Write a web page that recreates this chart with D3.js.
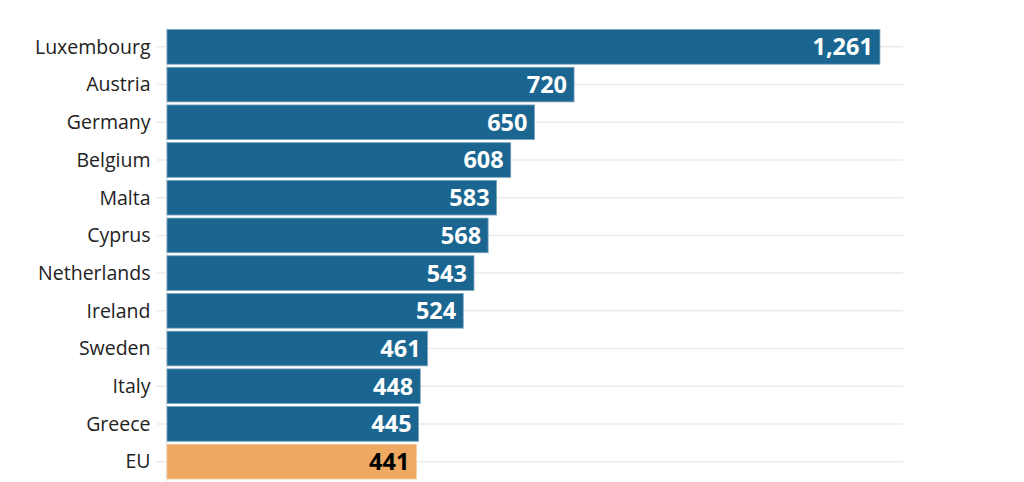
<!DOCTYPE html>
<html><head><meta charset="utf-8">
<script src="https://cdn.jsdelivr.net/npm/d3@7"></script>
<style>body{margin:0;background:#fff;}svg{display:block;font-family:"Open Sans",sans-serif;}</style>
</head><body>
<svg id="c" width="1024" height="482"></svg>
<script>
const categories = ["Luxembourg","Austria","Germany","Belgium","Malta","Cyprus","Netherlands","Ireland","Sweden","Italy","Greece","EU"];
const values = [1261,720,650,608,583,568,543,524,461,448,445,441];
const highlight = ["EU"];

const svg = d3.select("#c");
const x = d3.scaleLinear().domain([0,1300]).range([167,902]);
const y = d3.scaleBand().domain(categories).range([28,480.5]).paddingInner(0.08).paddingOuter(0.04);

// gridlines
svg.append("g").selectAll("line").data(categories).join("line")
  .attr("x1",157).attr("x2",903)
  .attr("y1",d=>y(d)+y.bandwidth()/2).attr("y2",d=>y(d)+y.bandwidth()/2)
  .attr("stroke","#ebebeb").attr("stroke-width",1.5);

// axis line
svg.append("line").attr("x1",166.5).attr("x2",166.5).attr("y1",28).attr("y2",482)
  .attr("stroke","#e6e6e6").attr("stroke-width",1);

const data = categories.map((c,i)=>({c,v:values[i]}));
svg.append("g").selectAll("rect").data(data).join("rect")
  .attr("x",x(0)).attr("y",d=>y(d.c))
  .attr("width",d=>x(d.v)-x(0)).attr("height",y.bandwidth())
  .attr("fill",d=>highlight.includes(d.c)?"#efa963":"#1a6691")
  .attr("stroke",d=>highlight.includes(d.c)?"#f5c99a":"#7fa6c0").attr("stroke-width",0.8);

// category labels
svg.append("g").selectAll("text").data(categories).join("text")
  .attr("x",150.5).attr("y",d=>y(d)+y.bandwidth()/2)
  .attr("dy","0.35em").attr("text-anchor","end")
  .attr("font-size",19.5).attr("fill","#222").text(d=>d);

// value labels
const fmt = d3.format(",");
svg.append("g").selectAll("text").data(data).join("text")
  .attr("x",d=>x(d.v)-7).attr("y",d=>y(d.c)+y.bandwidth()/2)
  .attr("dy","0.36em").attr("text-anchor","end")
  .attr("font-size",23.5).attr("font-weight","bold")
  .attr("fill",d=>highlight.includes(d.c)?"#000":"#fff").text(d=>fmt(d.v));
</script>
</body></html>
